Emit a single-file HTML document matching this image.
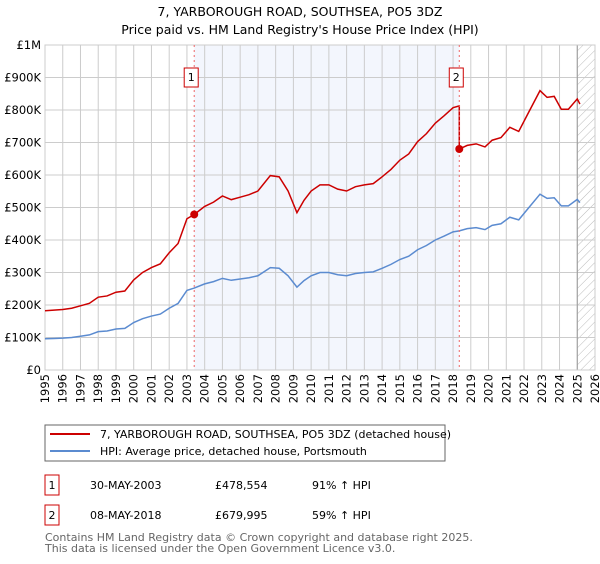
<!DOCTYPE html>
<html><head><meta charset="utf-8"><style>
body{margin:0;background:#fff;width:600px;height:560px;overflow:hidden;font-family:"DejaVu Sans","Liberation Sans",sans-serif}
svg text{font-family:"DejaVu Sans","Liberation Sans",sans-serif}
</style></head><body>
<svg id="c" width="600" height="560" xmlns="http://www.w3.org/2000/svg">
<defs><pattern id="hatch" width="6" height="6" patternUnits="userSpaceOnUse" patternTransform="rotate(45)"><line x1="0" y1="0" x2="0" y2="6" stroke="#bbb" stroke-width="1"/></pattern></defs>
<text x="300" y="16" text-anchor="middle" font-size="12.5" fill="#000">7, YARBOROUGH ROAD, SOUTHSEA, PO5 3DZ</text>
<text x="300" y="34" text-anchor="middle" font-size="12.5" fill="#000">Price paid vs. HM Land Registry's House Price Index (HPI)</text>
<g id="plot"></g>
<rect x="45" y="425" width="400" height="36" fill="#fff" stroke="#666"/>
<line x1="50" y1="434" x2="90" y2="434" stroke="#cc0000" stroke-width="2"/>
<text x="100" y="438" font-size="11">7, YARBOROUGH ROAD, SOUTHSEA, PO5 3DZ (detached house)</text>
<line x1="50" y1="451" x2="90" y2="451" stroke="#5b8bd0" stroke-width="2"/>
<text x="100" y="455" font-size="11">HPI: Average price, detached house, Portsmouth</text>
<g>
<rect x="45" y="475" width="14" height="20" fill="#fff" stroke="#cc0000"/>
<text x="52" y="489" font-size="11" text-anchor="middle">1</text>
<text x="90" y="489" font-size="11">30-MAY-2003</text>
<text x="215" y="489" font-size="11">£478,554</text>
<text x="312" y="489" font-size="11">91% ↑ HPI</text></g>
<g>
<rect x="45" y="505" width="14" height="20" fill="#fff" stroke="#cc0000"/>
<text x="52" y="519" font-size="11" text-anchor="middle">2</text>
<text x="90" y="519" font-size="11">08-MAY-2018</text>
<text x="215" y="519" font-size="11">£679,995</text>
<text x="312" y="519" font-size="11">59% ↑ HPI</text></g>
<text x="45" y="541" font-size="11" fill="#666">Contains HM Land Registry data © Crown copyright and database right 2025.</text>
<text x="45" y="552" font-size="11" fill="#666">This data is licensed under the Open Government Licence v3.0.</text>
</svg>
<script>
const hpiYears=[1995,1995.5,1996,1996.5,1997,1997.5,1998,1998.5,1999,1999.5,2000,2000.5,2001,2001.5,2002,2002.5,2003,2003.41,2004,2004.5,2005,2005.5,2006,2006.5,2007,2007.7,2008.2,2008.7,2009.2,2009.6,2010,2010.5,2011,2011.5,2012,2012.5,2013,2013.5,2014,2014.5,2015,2015.5,2016,2016.5,2017,2017.5,2018,2018.35,2018.8,2019.3,2019.8,2020.2,2020.7,2021.2,2021.7,2022.2,2022.9,2023.3,2023.7,2024.1,2024.5,2025,2025.15];
const hpiValues=[96,97,98,100,104,108,118,120,126,128,146,158,166,172,190,205,245,252,265,272,282,276,280,284,290,315,313,290,255,275,290,300,300,293,290,297,300,302,313,325,340,350,370,383,400,412,425,428,435,438,432,445,450,470,462,495,541,528,530,505,505,525,515];
const sales=[{t:2003.41,p:478554,label:"1"},{t:2018.35,p:679995,label:"2"}];
const yTicks=[0,100,200,300,400,500,600,700,800,900,1000];
const yTickLabels=["£0","£100K","£200K","£300K","£400K","£500K","£600K","£700K","£800K","£900K","£1M"];
const xYears=[1995,1996,1997,1998,1999,2000,2001,2002,2003,2004,2005,2006,2007,2008,2009,2010,2011,2012,2013,2014,2015,2016,2017,2018,2019,2020,2021,2022,2023,2024,2025,2026];
const X0=45,X1=595,Y0=370,Y1=45;
const xs=t=>X0+(t-1995)/(2026-1995)*(X1-X0);
const ys=v=>Y0-v/1000*(Y0-Y1);
const NS="http://www.w3.org/2000/svg";
const g=document.getElementById('plot');
function mk(tag,a,name){const e=document.createElementNS(NS,tag);for(const k in a)e.setAttribute(k,a[k]);


g.appendChild(e);return e;}
function hpiAt(t){for(let i=0;i<hpiYears.length-1;i++){if(t>=hpiYears[i]&&t<=hpiYears[i+1]){const f=(t-hpiYears[i])/(hpiYears[i+1]-hpiYears[i]);return hpiValues[i]+f*(hpiValues[i+1]-hpiValues[i]);}}return hpiValues[hpiValues.length-1];}
mk('rect',{x:xs(sales[0].t),y:Y1,width:xs(sales[1].t)-xs(sales[0].t),height:Y0-Y1,fill:'#f3f6fd'},'ownership-shading');
mk('rect',{x:xs(2025),y:Y1,width:X1-xs(2025),height:Y0-Y1,fill:'url(#hatch)'},'forecast-hatch');
xYears.forEach(y=>{mk('line',{x1:xs(y),x2:xs(y),y1:Y1,y2:Y0,stroke:'#ccc','stroke-width':1},'x-grid-line');
const t=mk('text',{x:0,y:0,'font-size':11.5,'text-anchor':'end',transform:`translate(${xs(y)+4},${Y0+4}) rotate(-90)`},'x-tick-label');t.textContent=y;});
yTicks.forEach((v,i)=>{mk('line',{x1:X0,x2:X1,y1:ys(v),y2:ys(v),stroke:'#ccc','stroke-width':1},'y-grid-line');
const t=mk('text',{x:X0-4,y:ys(v)+4,'font-size':11.5,'text-anchor':'end'},'y-tick-label');t.textContent=yTickLabels[i];});
mk('line',{x1:xs(2025),x2:xs(2025),y1:Y1,y2:Y0,stroke:'#999','stroke-width':1},'data-end-line');
mk('rect',{x:X0,y:Y1,width:X1-X0,height:Y0-Y1,fill:'none',stroke:'#ccc'},'plot-border');
// HPI line
mk('polyline',{points:hpiYears.map((t,i)=>xs(t)+','+ys(hpiValues[i])).join(' '),fill:'none',stroke:'#5b8bd0','stroke-width':1.5},'hpi-line');
// property line: indexed from sale prices
const r1=sales[0].p/1000/hpiAt(sales[0].t), r2=sales[1].p/1000/hpiAt(sales[1].t);
let pts=[];
hpiYears.forEach((t,i)=>{if(t<sales[1].t)pts.push([t,hpiValues[i]*r1]);});
pts.push([sales[1].t,hpiAt(sales[1].t)*r1]);pts.push([sales[1].t,sales[1].p/1000]);
hpiYears.forEach((t,i)=>{if(t>sales[1].t)pts.push([t,hpiValues[i]*r2]);});
mk('polyline',{points:pts.map(p=>xs(p[0])+','+ys(p[1])).join(' '),fill:'none',stroke:'#cc0000','stroke-width':1.5},'property-price-line');
sales.forEach(s=>{mk('line',{x1:xs(s.t),x2:xs(s.t),y1:Y1,y2:Y0,stroke:'#e66','stroke-width':1,'stroke-dasharray':'2,3'},'sale-marker-line');
mk('circle',{cx:xs(s.t),cy:ys(s.p/1000),r:4,fill:'#cc0000'},'sale-point');
mk('rect',{x:xs(s.t)-10,y:68,width:14,height:19,fill:'#fff',stroke:'#cc0000'},'sale-label-box');
const t=mk('text',{x:xs(s.t)-3,y:81,'font-size':11,'text-anchor':'middle'},'sale-label');t.textContent=s.label;});
</script>
</body></html>
